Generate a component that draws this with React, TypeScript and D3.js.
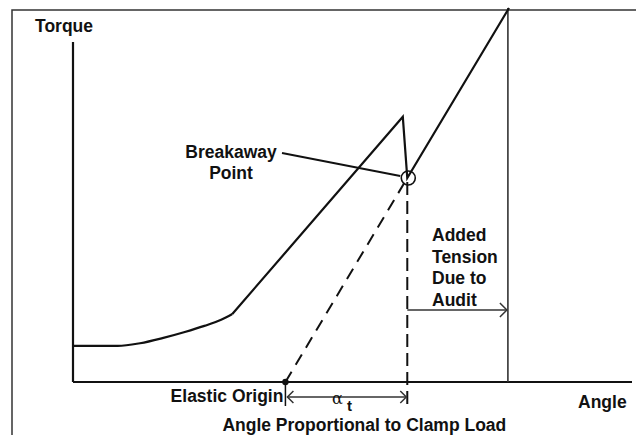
import React from "react";
import * as d3 from "d3";

// Schematic torque–angle curve (arbitrary units)
const toeAngle = [0, 8, 12, 16, 20, 23.5, 26.5, 28.5];
const toeTorque = [10.6, 10.6, 11.4, 12.9, 14.7, 16.5, 18.3, 20];
const riseAngle = [28.5, 59, 59.8, 78];
const riseTorque = [20, 78, 60, 110];
const elasticOriginAngle = 38;
const breakawayAngle = 59.8;
const breakawayTorque = 60;
const auditAngle = 77.8;
const addedTensionLines = ["Added", "Tension", "Due to", "Audit"];
const breakawayLines = ["Breakaway", "Point"];

const W = 636;
const H = 435;
const x = d3.scaleLinear().domain([0, 100]).range([73, 632]);
const y = d3.scaleLinear().domain([0, 100]).range([382, 42]);

const INK = "#111";
const FONT = "'Liberation Sans', Arial, sans-serif";

export default function App() {
  const toePts: [number, number][] = toeAngle.map((a, i) => [a, toeTorque[i]]);
  const risePts: [number, number][] = riseAngle.map((a, i) => [a, riseTorque[i]]);
  const toeLine = d3
    .line<[number, number]>()
    .x((d) => x(d[0]))
    .y((d) => y(d[1]))
    .curve(d3.curveMonotoneX);
  const riseLine = d3
    .line<[number, number]>()
    .x((d) => x(d[0]))
    .y((d) => y(d[1]))
    .curve(d3.curveLinear);
  const x0 = x(0);
  const y0 = y(0);
  const xe = x(elasticOriginAngle);
  const xb = x(breakawayAngle);
  const yb = y(breakawayTorque);
  const xa = x(auditAngle);
  const yTop = y(riseTorque[riseTorque.length - 1]);
  const arrowY = 310;
  const alphaY = 397;

  return (
    <svg
      width={W}
      height={H}
      style={{ position: "absolute", left: 0, top: 0, background: "#fff" }}
      fontFamily={FONT}
      fontWeight="bold"
      fontSize={17.5}
    >
      <rect x={0} y={0} width={W} height={H} fill="#fff" />
      {/* frame */}
      <rect x={12} y={10} width={W + 20} height={H + 20} fill="none" stroke="#333" strokeWidth={1.5} />
      {/* axes */}
      <line x1={x0} x2={x0} y1={y(100)} y2={y0} stroke={INK} strokeWidth={2.2} />
      <line x1={x0} x2={x(100)} y1={y0} y2={y0} stroke={INK} strokeWidth={2.2} />
      <text x={35} y={32} fill={INK}>Torque</text>
      <text x={578} y={408} fill={INK}>Angle</text>

      {/* audit vertical */}
      <line x1={xa} x2={xa} y1={yTop} y2={y0} stroke="#333" strokeWidth={1.6} />

      {/* elastic dashed extrapolation */}
      <line x1={xe} y1={y0} x2={xb} y2={yb} stroke={INK} strokeWidth={2} strokeDasharray="12,8" />
      <line x1={xb} y1={yb + 4} x2={xb} y2={y0 + 23} stroke={INK} strokeWidth={2} strokeDasharray="13,6" />

      {/* curve */}
      <path d={toeLine(toePts) || ""} fill="none" stroke={INK} strokeWidth={2.2} />
      <path d={riseLine(risePts) || ""} fill="none" stroke={INK} strokeWidth={2.2} strokeLinejoin="miter" />

      {/* breakaway circle */}
      <circle cx={xb + 1} cy={yb} r={7} fill="none" stroke={INK} strokeWidth={1.6} />
      <line x1={282} y1={153} x2={xb - 7} y2={yb - 2} stroke={INK} strokeWidth={1.8} />
      {breakawayLines.map((t, i) => (
        <text key={t} x={231} y={158 + i * 21} textAnchor="middle" fill={INK}>
          {t}
        </text>
      ))}

      {/* added tension */}
      {addedTensionLines.map((t, i) => (
        <text key={t} x={432} y={241 + i * 21.7} fill={INK}>
          {t}
        </text>
      ))}
      <line x1={xb} x2={xa - 1} y1={arrowY} y2={arrowY} stroke="#333" strokeWidth={1.5} />
      <polyline
        points={`${xa - 8},${arrowY - 7} ${xa - 1},${arrowY} ${xa - 8},${arrowY + 7}`}
        fill="none"
        stroke="#333"
        strokeWidth={1.5}
      />

      {/* elastic origin */}
      <circle cx={xe} cy={y0} r={3.2} fill={INK} />
      <line x1={xe} x2={xe} y1={y0} y2={y0 + 24} stroke={INK} strokeWidth={1.5} />
      <text x={xe - 2} y={402} textAnchor="end" fill={INK}>Elastic Origin</text>
      <line x1={xe + 2} x2={xb - 1} y1={alphaY} y2={alphaY} stroke="#333" strokeWidth={1.5} />
      <polyline
        points={`${xe + 8},${alphaY - 6} ${xe + 2},${alphaY} ${xe + 8},${alphaY + 6}`}
        fill="none"
        stroke="#333"
        strokeWidth={1.5}
      />
      <polyline
        points={`${xb - 7},${alphaY - 6} ${xb - 1},${alphaY} ${xb - 7},${alphaY + 6}`}
        fill="none"
        stroke="#333"
        strokeWidth={1.5}
      />
      <text x={332} y={404} fontFamily="'DejaVu Serif', 'Liberation Serif', serif" fontWeight="normal" fontSize={16} fill={INK}>
        α
      </text>
      <text x={347} y={411} fontSize={15} fill={INK}>t</text>
      <text x={(xe + xb) / 2 + 18} y={431} textAnchor="middle" fill={INK}>
        Angle Proportional to Clamp Load
      </text>
    </svg>
  );
}
